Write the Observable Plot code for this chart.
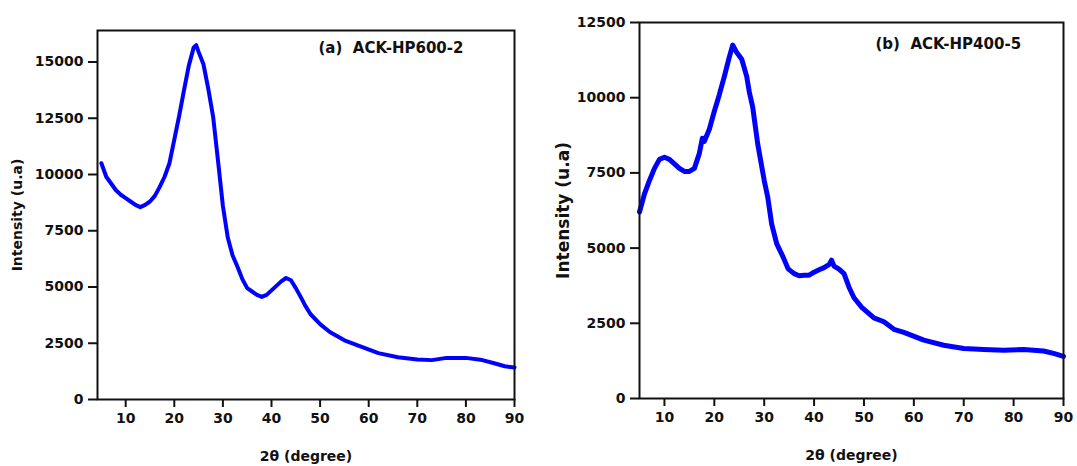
<!DOCTYPE html>
<html>
<head>
<meta charset="utf-8">
<script src="https://cdn.jsdelivr.net/npm/d3@7"></script>
<script src="https://cdn.jsdelivr.net/npm/@observablehq/plot@0.6"></script>
<style>
  html, body { margin: 0; padding: 0; background: #fff; }
  #wrap { display: flex; width: 1077px; height: 466px; }
  svg { font-family: "DejaVu Sans", Verdana, sans-serif; }
</style>
</head>
<body>
<div id="wrap"></div>
<script>
// Panel (a) ACK-HP600-2
const xA = [5, 6, 7, 8, 9, 10, 11, 12, 13, 14, 15, 16, 17, 18, 19, 20, 21, 22, 23, 24, 24.5, 25, 26, 27, 28, 29, 30, 31, 32, 33, 34, 35, 36, 37, 38, 39, 40, 41, 42, 43, 44, 45, 46, 47, 48, 50, 52, 55, 58, 62, 66, 70, 73, 76, 80, 83, 86, 88, 90];
const yA = [10500, 9900, 9600, 9300, 9100, 8950, 8800, 8650, 8550, 8650, 8800, 9050, 9450, 9900, 10500, 11550, 12600, 13750, 14850, 15650, 15750, 15450, 14900, 13800, 12550, 10600, 8600, 7200, 6400, 5900, 5350, 4950, 4800, 4650, 4560, 4650, 4850, 5050, 5250, 5400, 5300, 4950, 4560, 4150, 3800, 3350, 3000, 2630, 2380, 2060, 1880, 1780, 1750, 1850, 1850, 1770, 1600, 1480, 1420];
// Panel (b) ACK-HP400-5
const xB = [5, 6, 7, 8, 9, 10, 11, 12, 13, 14, 15, 16, 17, 17.6, 18, 19, 20, 21, 22, 23, 23.7, 24.5, 25.5, 26.5, 27, 27.7, 28.7, 30, 30.7, 31.5, 32.5, 33.8, 34.8, 36, 37, 38, 39, 40, 41, 42, 43, 43.5, 44, 45, 46, 47, 48, 49.5, 52, 54, 56, 58, 62, 66, 70, 74, 78, 82, 86, 88, 90];
const yB = [6200, 6800, 7250, 7650, 7950, 8020, 7950, 7800, 7650, 7550, 7550, 7650, 8150, 8650, 8550, 8950, 9550, 10100, 10700, 11350, 11750, 11500, 11280, 10700, 10200, 9680, 8460, 7250, 6700, 5800, 5150, 4700, 4310, 4150, 4080, 4100, 4100, 4200, 4280, 4350, 4450, 4600, 4400, 4300, 4150, 3700, 3350, 3040, 2680, 2550, 2300, 2200, 1940, 1770, 1660, 1630, 1600, 1630, 1580, 1500, 1400];

const xTicks = [10, 20, 30, 40, 50, 60, 70, 80, 90];
const yTicksA = [0, 2500, 5000, 7500, 10000, 12500, 15000];
const yTicksB = [0, 2500, 5000, 7500, 10000, 12500];
const labelA = "(a)\u00a0\u00a0ACK-HP600-2";
const labelB = "(b)\u00a0\u00a0ACK-HP400-5";
const xTitle = "2θ (degree)";
const yTitle = "Intensity (u.a)";

const dataA = xA.map((x, i) => ({x, y: yA[i]}));
const dataB = xB.map((x, i) => ({x, y: yB[i]}));

function panel(cfg) {
  return Plot.plot({
    width: cfg.width,
    height: 466,
    marginLeft: cfg.ml,
    marginRight: cfg.mr,
    marginTop: cfg.mt,
    marginBottom: cfg.mb,
    style: {fontFamily: "'DejaVu Sans', Verdana, sans-serif", background: "white", color: "#111"},
    x: {domain: cfg.xDomain},
    y: {domain: cfg.yDomain},
    marks: [
      Plot.line(cfg.data, {x: "x", y: "y", stroke: "#0000ff", strokeWidth: cfg.sw, strokeLinejoin: "round"}),
      Plot.frame({stroke: "#111", strokeWidth: 2}),
      Plot.axisX({ticks: xTicks, tickSize: 8, tickPadding: 6, strokeWidth: 2, fontSize: 14, fontWeight: "bold", label: null, tickFormat: d => String(d)}),
      Plot.axisY({ticks: cfg.yTicks, tickSize: 9, tickPadding: 5, strokeWidth: 2, fontSize: 14, fontWeight: "bold", label: null, tickFormat: d => String(d)}),
      Plot.text([yTitle], {frameAnchor: "left", dx: cfg.yTitleDx, rotate: -90, textAnchor: "middle", lineAnchor: "middle", fontSize: cfg.yTitleSize, fontWeight: "bold", fill: "#111"}),
      Plot.text([xTitle], {frameAnchor: "bottom", dy: 57, lineAnchor: "middle", fontSize: 14, fontWeight: "bold", fill: "#111"}),
      Plot.text([cfg.label], {frameAnchor: "top-left", dx: cfg.labDx, dy: cfg.labDy, textAnchor: "start", lineAnchor: "middle", fontSize: 15, fontWeight: "bold", fill: "#111"})
    ]
  });
}

const wrap = document.getElementById("wrap");
wrap.append(panel({width: 540, ml: 97, mr: 26, mt: 30, mb: 67, xDomain: [4.2, 90], yDomain: [0, 16400], yTicks: yTicksA, data: dataA, sw: 4, yTitleDx: -80, yTitleSize: 14, label: labelA, labDx: 221, labDy: 18}));
wrap.append(panel({width: 537, ml: 99, mr: 14, mt: 22, mb: 68, xDomain: [5, 90], yDomain: [0, 12500], yTicks: yTicksB, data: dataB, sw: 5, yTitleDx: -76, yTitleSize: 17, label: labelB, labDx: 236, labDy: 22}));
</script>
</body>
</html>
